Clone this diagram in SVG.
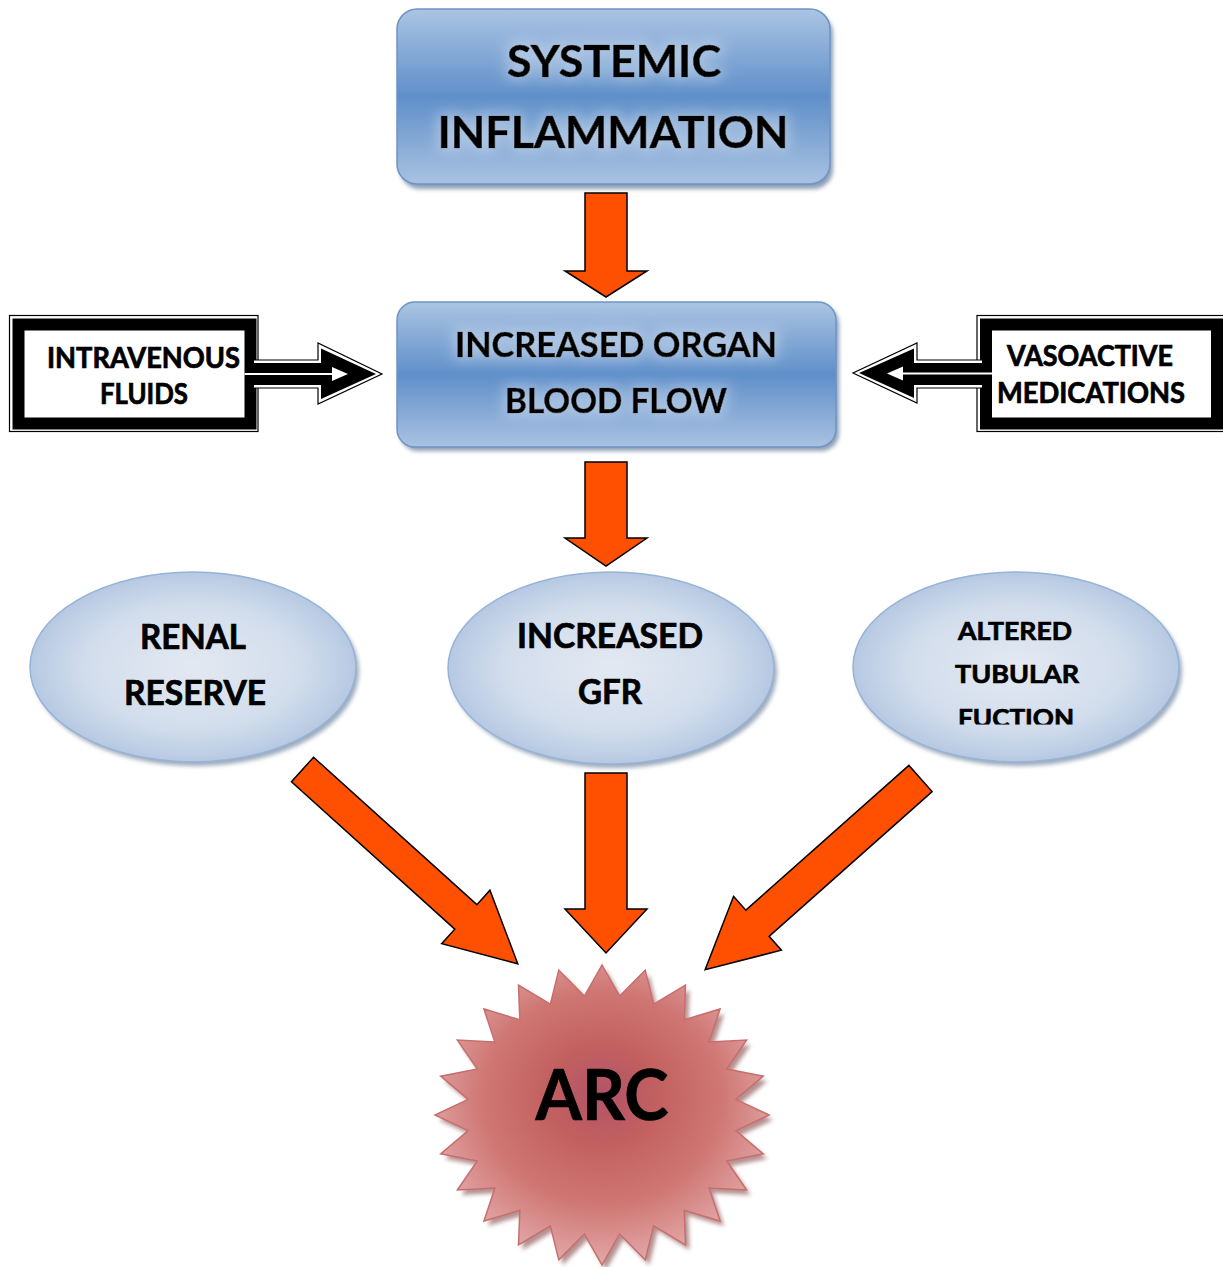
<svg xmlns="http://www.w3.org/2000/svg" width="1223" height="1267" viewBox="0 0 1223 1267">
<defs>
  <linearGradient id="boxGrad" x1="0" y1="0" x2="0" y2="1">
    <stop offset="0" stop-color="#abc4e3"/>
    <stop offset="0.5" stop-color="#5f8fc9"/>
    <stop offset="1" stop-color="#a9c2e1"/>
  </linearGradient>
  <radialGradient id="ellGrad" cx="0.5" cy="0.5" r="0.55">
    <stop offset="0" stop-color="#e3e9f2"/>
    <stop offset="0.6" stop-color="#d2ddec"/>
    <stop offset="1" stop-color="#aec3e0"/>
  </radialGradient>
  <radialGradient id="starGrad" cx="0.5" cy="0.45" r="0.55" fx="0.5" fy="0.43">
    <stop offset="0" stop-color="#b2536a"/>
    <stop offset="0.3" stop-color="#c2605f"/>
    <stop offset="0.65" stop-color="#cf7774"/>
    <stop offset="1" stop-color="#e2a8a8"/>
  </radialGradient>
  <filter id="blur2" x="-10%" y="-10%" width="120%" height="120%">
    <feGaussianBlur stdDeviation="2"/>
  </filter>
  <filter id="glow" x="-10%" y="-40%" width="120%" height="180%">
    <feMorphology in="SourceAlpha" operator="dilate" radius="3" result="d"/>
    <feGaussianBlur in="d" stdDeviation="7" result="b"/>
    <feFlood flood-color="#ffffff" flood-opacity="0.35"/>
    <feComposite in2="b" operator="in" result="g"/>
    <feMerge><feMergeNode in="g"/><feMergeNode in="SourceGraphic"/></feMerge>
  </filter>
  <clipPath id="clipFuction">
    <rect x="900" y="690" width="240" height="34.5"/>
  </clipPath>
  <style>
    .t { font-family: Lato, "Open Sans", "Liberation Sans", sans-serif; font-weight: 700; fill: #000; stroke: #000; stroke-width: 0.7; text-anchor: middle; }
    .box { fill: url(#boxGrad); stroke: #6e94c6; stroke-width: 1.5; }
    .boxShadow { fill: #6f86a3; opacity: 0.8; }
    .ell { fill: url(#ellGrad); stroke: #98b3d6; stroke-width: 1.5; }
    .ellShadow { fill: #8295ac; opacity: 0.8; }
    .orange { fill: #ff4f00; stroke: #000; stroke-width: 1.5; stroke-linejoin: miter; }
    .frameOut { fill: #fff; stroke: #000; stroke-width: 1.2; }
    .frameBand { fill: #fff; stroke: #000; stroke-width: 12; }
  </style>
</defs>
<rect width="1223" height="1267" fill="#fff"/>

<!-- Nodes -->
<g id="node-systemic">
  <rect class="boxShadow" x="400" y="14" width="433" height="175" rx="20" filter="url(#blur2)"/>
  <rect class="box" x="397" y="9" width="433" height="175" rx="20"/>
  <g filter="url(#glow)">
    <text class="t" x="614" y="77" font-size="44" textLength="214" lengthAdjust="spacingAndGlyphs">SYSTEMIC</text>
    <text class="t" x="613" y="148" font-size="44" textLength="351" lengthAdjust="spacingAndGlyphs">INFLAMMATION</text>
  </g>
</g>

<g id="node-blood-flow">
  <rect class="boxShadow" x="400" y="306" width="439" height="145" rx="18" filter="url(#blur2)"/>
  <rect class="box" x="397" y="302" width="439" height="145" rx="18"/>
  <g filter="url(#glow)">
    <text class="t" x="616" y="357" font-size="35" textLength="322" lengthAdjust="spacingAndGlyphs">INCREASED ORGAN</text>
    <text class="t" x="616" y="413" font-size="35" textLength="222" lengthAdjust="spacingAndGlyphs">BLOOD FLOW</text>
  </g>
</g>

<g id="node-iv-fluids">
  <rect class="frameOut" x="9.5" y="315.5" width="248.5" height="116"/>
  <rect class="frameBand" x="18.5" y="324.5" width="232" height="99"/>
  <text class="t" x="143.5" y="368" font-size="28" textLength="193" lengthAdjust="spacingAndGlyphs">INTRAVENOUS</text>
  <text class="t" x="144" y="404" font-size="28" textLength="88" lengthAdjust="spacingAndGlyphs">FLUIDS</text>
</g>

<g id="node-vasoactive">
  <rect class="frameOut" x="977" y="315.5" width="260" height="116"/>
  <rect class="frameBand" x="986" y="324.5" width="231" height="99"/>
  <text class="t" x="1090" y="366" font-size="28" textLength="166" lengthAdjust="spacingAndGlyphs">VASOACTIVE</text>
  <text class="t" x="1091" y="403" font-size="28" textLength="188" lengthAdjust="spacingAndGlyphs">MEDICATIONS</text>
</g>

<g id="node-renal-reserve">
  <ellipse class="ellShadow" cx="196" cy="671" rx="163" ry="95" filter="url(#blur2)"/>
  <ellipse class="ell" cx="193" cy="667" rx="163" ry="95"/>
  <text class="t" x="193" y="649" font-size="35" textLength="106" lengthAdjust="spacingAndGlyphs">RENAL</text>
  <text class="t" x="195" y="705" font-size="35" textLength="142" lengthAdjust="spacingAndGlyphs">RESERVE</text>
</g>

<g id="node-increased-gfr">
  <ellipse class="ellShadow" cx="614" cy="672" rx="163" ry="96" filter="url(#blur2)"/>
  <ellipse class="ell" cx="611" cy="668" rx="163" ry="96"/>
  <text class="t" x="610" y="648" font-size="35" textLength="186" lengthAdjust="spacingAndGlyphs">INCREASED</text>
  <text class="t" x="610" y="704" font-size="35" textLength="64" lengthAdjust="spacingAndGlyphs">GFR</text>
</g>

<g id="node-altered-tubular">
  <ellipse class="ellShadow" cx="1019" cy="671" rx="163" ry="95" filter="url(#blur2)"/>
  <ellipse class="ell" cx="1016" cy="667" rx="163" ry="95"/>
  <text class="t" x="1015" y="640" font-size="25" textLength="114" lengthAdjust="spacingAndGlyphs">ALTERED</text>
  <text class="t" x="1017" y="683" font-size="25" textLength="124" lengthAdjust="spacingAndGlyphs">TUBULAR</text>
  <text class="t" x="1016" y="727" font-size="25" textLength="116" lengthAdjust="spacingAndGlyphs" clip-path="url(#clipFuction)">FUCTION</text>
</g>

<g id="node-arc">
  <polygon fill="#9c6a6a" opacity="0.75" filter="url(#blur2)" transform="translate(4,5)" points="769,1115 735.84,1099.34 763.31,1076.18 726.72,1069.08 746.63,1040 709.1,1041.95 720.09,1008.93 684.18,1019.8 685.5,985.1 653.66,1004.13 645.22,970.11 619.62,996.03 602,965 584.38,996.03 558.78,970.11 550.34,1004.13 518.5,985.1 519.82,1019.8 483.91,1008.93 494.9,1041.95 457.37,1040 477.28,1069.08 440.69,1076.18 468.16,1099.34 435,1115 468.16,1130.66 440.69,1153.82 477.28,1160.92 457.37,1190 494.9,1188.05 483.91,1221.07 519.82,1210.2 518.5,1244.9 550.34,1225.87 558.78,1259.89 584.38,1233.97 602,1265 619.62,1233.97 645.22,1259.89 653.66,1225.87 685.5,1244.9 684.18,1210.2 720.09,1221.07 709.1,1188.05 746.63,1190 726.72,1160.92 763.31,1153.82 735.84,1130.66"/>
  <polygon fill="url(#starGrad)" stroke="#c86e6e" stroke-width="1.5" points="769,1115 735.84,1099.34 763.31,1076.18 726.72,1069.08 746.63,1040 709.1,1041.95 720.09,1008.93 684.18,1019.8 685.5,985.1 653.66,1004.13 645.22,970.11 619.62,996.03 602,965 584.38,996.03 558.78,970.11 550.34,1004.13 518.5,985.1 519.82,1019.8 483.91,1008.93 494.9,1041.95 457.37,1040 477.28,1069.08 440.69,1076.18 468.16,1099.34 435,1115 468.16,1130.66 440.69,1153.82 477.28,1160.92 457.37,1190 494.9,1188.05 483.91,1221.07 519.82,1210.2 518.5,1244.9 550.34,1225.87 558.78,1259.89 584.38,1233.97 602,1265 619.62,1233.97 645.22,1259.89 653.66,1225.87 685.5,1244.9 684.18,1210.2 720.09,1221.07 709.1,1188.05 746.63,1190 726.72,1160.92 763.31,1153.82 735.84,1130.66"/>
  <text class="t" x="602" y="1120" font-size="70" textLength="133" lengthAdjust="spacingAndGlyphs" stroke-width="1.2">ARC</text>
</g>

<!-- Connectors -->
<g id="connectors">
  <polygon class="orange" points="585,193 627,193 627,271 647,271 606,297 565,271 585,271"/>
  <polygon class="orange" points="585,462 627,462 627,538 647,538 606,566 565,538 585,538"/>
  <polygon class="orange" points="585,773 627,773 627,909 647,909 606,953 565,909 585,909"/>
  <polygon class="orange" transform="translate(302.5,769.5) rotate(42.07)" points="0,-16.5 220,-16.5 220,-36 290,0 220,36 220,16.5 0,16.5"/>
  <polygon class="orange" transform="translate(920.5,778.5) rotate(138.4)" points="0,-17.5 218,-17.5 218,-36 288,0 218,36 218,17.5 0,17.5"/>

  <!-- double-line arrow: intravenous fluids -->
  <g id="arrow-iv">
    <path d="M254,360 H318 V343 L382,374 L318,404 V388 H254" fill="#fff" stroke="#000" stroke-width="1.2"/>
    <path d="M250,363 H321 V348.5 L376,374 L321,399 V385 H250 Z" fill="#000"/>
    <line x1="244.5" y1="374" x2="334" y2="374" stroke="#fff" stroke-width="1.8"/>
    <polygon points="332,367 348,374 332,381" fill="#fff"/>
  </g>
  <!-- double-line arrow: vasoactive medications -->
  <g id="arrow-vaso">
    <path d="M982,360 H917 V343 L853,373 L917,403 V388 H982" fill="#fff" stroke="#000" stroke-width="1.2"/>
    <path d="M986,363 H914 V348.5 L859,373 L914,398 V385 H986 Z" fill="#000"/>
    <line x1="992.5" y1="373.5" x2="901" y2="373.5" stroke="#fff" stroke-width="1.8"/>
    <polygon points="903,366.5 887,373.5 903,380.5" fill="#fff"/>
  </g>
</g>
</svg>
